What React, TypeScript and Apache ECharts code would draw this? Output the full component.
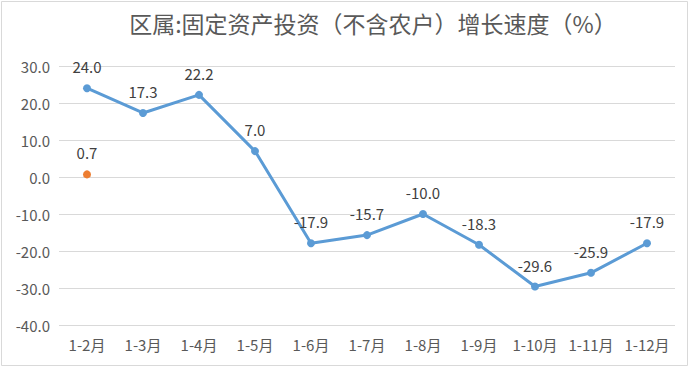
import React, { useEffect, useRef } from "react";
import * as echarts from "echarts";

const categories = ["1-2月", "1-3月", "1-4月", "1-5月", "1-6月", "1-7月", "1-8月", "1-9月", "1-10月", "1-11月", "1-12月"];
const growth = [24.0, 17.3, 22.2, 7.0, -17.9, -15.7, -10.0, -18.3, -29.6, -25.9, -17.9];
const farmGrowth = [0.7, null, null, null, null, null, null, null, null, null, null];
const titleText = "区属:固定资产投资（不含农户）增长速度（%）";

const FONT = "'Noto Sans CJK SC', 'Microsoft YaHei', sans-serif";

export default function App() {
  const ref = useRef<HTMLDivElement>(null);
  useEffect(() => {
    const chart = echarts.init(ref.current!, null, { renderer: "svg" });
    const labelCfg = {
      show: true,
      position: "top",
      distance: 10,
      color: "#404040",
      fontSize: 15,
      fontFamily: FONT,
      formatter: (p: any) => Number(p.value).toFixed(1),
    };
    chart.setOption({
      animation: false,
      backgroundColor: "#ffffff",
      graphic: [
        {
          type: "rect",
          shape: { x: 1.5, y: 1.5, width: 686, height: 364 },
          style: { fill: "none", stroke: "#d9d9d9", lineWidth: 1 },
          silent: true,
        },
        {
          type: "text",
          x: 373,
          y: 23,
          style: {
            text: titleText,
            fill: "#595959",
            font: `23px ${FONT}`,
            textAlign: "center",
            textVerticalAlign: "middle",
          },
        },
      ],
      grid: { left: 59, right: 19, top: 66, bottom: 43, containLabel: false },
      xAxis: {
        type: "category",
        data: categories,
        boundaryGap: true,
        axisLine: { show: false },
        axisTick: { show: false },
        axisLabel: { color: "#595959", fontSize: 15, fontFamily: FONT, margin: 12, interval: 0 },
      },
      yAxis: {
        type: "value",
        min: -40,
        max: 30,
        interval: 10,
        axisLine: { show: false },
        axisTick: { show: false },
        splitLine: { lineStyle: { color: "#d9d9d9", width: 1 } },
        axisLabel: {
          color: "#595959",
          fontSize: 15,
          fontFamily: FONT,
          margin: 9,
          formatter: (v: number) => v.toFixed(1),
        },
      },
      series: [
        {
          type: "line",
          data: growth,
          symbol: "circle",
          symbolSize: 8,
          lineStyle: { color: "#5B9BD5", width: 3 },
          itemStyle: { color: "#5B9BD5" },
          label: labelCfg,
        },
        {
          type: "line",
          data: farmGrowth,
          symbol: "circle",
          symbolSize: 8,
          lineStyle: { color: "#ED7D31", width: 3 },
          itemStyle: { color: "#ED7D31" },
          label: labelCfg,
        },
      ],
    });
    return () => chart.dispose();
  }, []);
  return (
    <div
      ref={ref}
      style={{ position: "fixed", left: 0, top: 0, width: 694, height: 368 }}
    />
  );
}
